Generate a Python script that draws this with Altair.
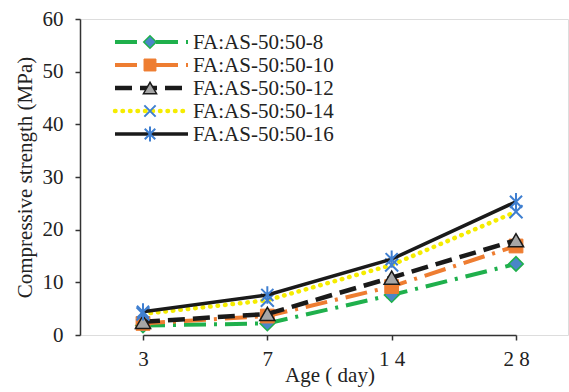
import altair as alt
import pandas as pd

# Curing ages (days) and their axis labels
ages = [3, 7, 14, 28]
age_labels = ["3", "7", "1 4", "2 8"]

# Mix series
series = ["FA:AS-50:50-8", "FA:AS-50:50-10", "FA:AS-50:50-12",
          "FA:AS-50:50-14", "FA:AS-50:50-16"]

# Compressive strength (MPa) per series at each age
s8 = [1.8, 2.2, 7.6, 13.5]
s10 = [2.2, 3.6, 9.2, 16.9]
s12 = [2.5, 4.0, 10.9, 18.0]
s14 = [4.0, 6.6, 13.3, 23.4]
s16 = [4.4, 7.6, 14.4, 25.3]
values = [s8, s10, s12, s14, s16]

FONT = "Liberation Serif"
ASTERISK = "M-0.7,-0.7L0.7,0.7M-0.7,0.7L0.7,-0.7M0,-1L0,1"
XMARK = "M-1,-1L1,1M-1,1L1,-1"

# Line / marker styling for each series
styles = [
    dict(color="#1fb04c", dash=[22, 8, 3, 8], width=4, cap="butt",
         shape="diamond", size=210, fill="#4a86c8", mstroke="#1fb04c", mw=1.5, filled=True),
    dict(color="#ee7d31", dash=[22, 8, 3, 8], width=4, cap="butt",
         shape="square", size=190, fill="#ee7d31", mstroke="#ee7d31", mw=1, filled=True),
    dict(color="#1a1a1a", dash=[17, 8], width=4.5, cap="butt",
         shape="triangle-up", size=230, fill="#a6a6a6", mstroke="#1a1a1a", mw=1.5, filled=True),
    dict(color="#f5ec00", dash=[0.5, 7], width=4.5, cap="round",
         shape=XMARK, size=170, fill=None, mstroke="#3f7fd0", mw=2, filled=False),
    dict(color="#1a1a1a", dash=None, width=3.5, cap="butt",
         shape=ASTERISK, size=300, fill=None, mstroke="#3f7fd0", mw=2, filled=False),
]

rows = []
for name, vals in zip(series, values):
    for a, v in zip(ages, vals):
        rows.append({"series": name, "age": a, "strength": v})
df = pd.DataFrame(rows)

label_expr = " : ".join(
    f"datum.value == {a} ? '{l}'" for a, l in zip(ages, age_labels)
) + " : datum.label"

x_enc = alt.X(
    "age:O",
    scale=alt.Scale(type="point", range=[63, 436], padding=0),
    axis=alt.Axis(
        title="Age ( day)", labelExpr=label_expr, labelAngle=0,
        labelFont=FONT, labelFontSize=21, labelColor="#222",
        titleFont=FONT, titleFontSize=21, titleFontWeight="normal",
        titleColor="#222", titlePadding=-5, labelPadding=8,
        tickSize=5, tickColor="#333", domainColor="#333", domainWidth=1.5,
        tickWidth=1.5, grid=False,
    ),
)
y_enc = alt.Y(
    "strength:Q",
    scale=alt.Scale(domain=[0, 60], nice=False),
    axis=alt.Axis(
        title="Compressive strength (MPa)", values=[0, 10, 20, 30, 40, 50, 60],
        labelFont=FONT, labelFontSize=21, labelColor="#222",
        titleFont=FONT, titleFontSize=21, titleFontWeight="normal",
        titleColor="#222", titlePadding=7, labelPadding=12,
        tickSize=5, tickColor="#333", domainColor="#333", domainWidth=1.5,
        tickWidth=1.5, grid=False,
    ),
)

layers = []
legend_y0, legend_dy = 23, 23
for i, (name, st) in enumerate(zip(series, styles)):
    sub = df[df["series"] == name]
    line_kw = dict(color=st["color"], strokeWidth=st["width"], strokeCap=st["cap"])
    if st["dash"]:
        line_kw["strokeDash"] = st["dash"]
    line = alt.Chart(sub).mark_line(**line_kw).encode(x=x_enc, y=y_enc)

    pt_kw = dict(shape=st["shape"], size=st["size"], filled=st["filled"],
                 stroke=st["mstroke"], strokeWidth=st["mw"], opacity=1)
    if st["fill"]:
        pt_kw["fill"] = st["fill"]
    pts = alt.Chart(sub).mark_point(**pt_kw).encode(x=x_enc, y=y_enc)
    layers += [line, pts]

# Legend drawn inside the plot, one row per series
leg_layers = []
for i, (name, st) in enumerate(zip(series, styles)):
    ly = legend_y0 + i * legend_dy
    leg_df = pd.DataFrame({"series": [name]})
    rule_kw = dict(color=st["color"], strokeWidth=st["width"], strokeCap=st["cap"])
    if st["dash"]:
        rule_kw["strokeDash"] = st["dash"]
    leg_layers.append(
        alt.Chart(leg_df).mark_rule(**rule_kw).encode(
            x=alt.value(35), x2=alt.value(108), y=alt.value(ly))
    )
    pt_kw = dict(shape=st["shape"], size=st["size"] * 0.75, filled=st["filled"],
                 stroke=st["mstroke"], strokeWidth=st["mw"], opacity=1)
    if st["fill"]:
        pt_kw["fill"] = st["fill"]
    leg_layers.append(
        alt.Chart(leg_df).mark_point(**pt_kw).encode(
            x=alt.value(70), y=alt.value(ly))
    )
    leg_layers.append(
        alt.Chart(leg_df).mark_text(
            align="left", baseline="middle", font=FONT, fontSize=21, color="#222"
        ).encode(x=alt.value(113), y=alt.value(ly + 1), text="series:N")
    )

chart = alt.layer(*layers, *leg_layers).properties(
    width=488, height=316,
    autosize=alt.AutoSizeParams(type="none"),
    padding={"left": 80, "top": 19, "right": 1, "bottom": 57},
).configure_view(stroke=None).configure(background="white")

chart.save("out.html", embed_options={"renderer": "svg", "actions": False})
